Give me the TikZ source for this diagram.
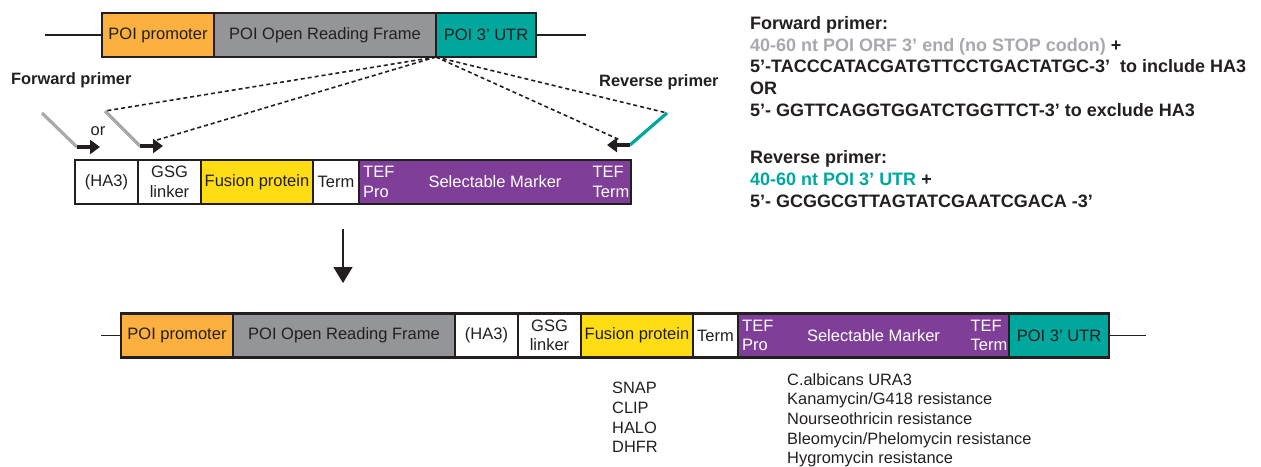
\documentclass[tikz,border=0pt]{standalone}
\usepackage{fontspec}
\setmainfont{Liberation Sans}
\usetikzlibrary{positioning,arrows.meta}

\definecolor{outline}{HTML}{231F20}
\definecolor{promoter}{HTML}{FBB040}
\definecolor{orf}{HTML}{939598}
\definecolor{utr}{HTML}{00A79D}
\definecolor{fusion}{HTML}{FFDD15}
\definecolor{marker}{HTML}{7F3F98}
\definecolor{primergray}{HTML}{A7A9AC}

\newcommand{\segfont}{\fontsize{16.5}{19.5}\selectfont}
\newcommand{\listfont}{\fontsize{16.4}{19.7}\selectfont}
\newcommand{\infofont}{\fontsize{18}{21.8}\selectfont}

\begin{document}
\begin{tikzpicture}[x=1pt, y=-1pt,
    seg/.style={rectangle, draw=outline, line width=2.2pt, inner sep=0pt, outer sep=0pt,
                minimum height=44pt, text=outline, font=\segfont, align=center},
    tef/.style={font=\segfont, text=white, align=left, inner xsep=4pt, inner ysep=0pt},
    dna/.style={line width=1.6pt, draw=outline},
    primer/.style={line width=3.2pt, draw=primergray},
    tip/.style={line width=4pt, draw=outline, -{Triangle[length=10pt,width=14pt]}},
    guide/.style={line width=1.6pt, draw=outline, dash pattern=on 4pt off 3pt},
    primerlabel/.style={font=\fontsize{16.4}{19.5}\selectfont\bfseries, text=outline, inner sep=0pt},
    note/.style={font=\listfont, text=outline, align=left, inner sep=0pt},
    info/.style={font=\infofont\bfseries, text=outline, align=left, inner sep=0pt}
]
    \useasboundingbox (0,0) rectangle (1261,466);

    % Genomic locus
    \node[seg, fill=promoter, minimum width=112pt] (topprom) at (158,35) {POI promoter};
    \node[seg, fill=orf, minimum width=222pt, right=0pt of topprom] (toporf) {POI Open Reading Frame};
    \node[seg, fill=utr, minimum width=100pt, right=0pt of toporf] (toputr) {POI 3’ UTR};
    \coordinate (topleft) at (45,35);
    \coordinate (topright) at (586,35);
    \draw[dna] (topleft) -- (topprom.west);
    \draw[dna] (toputr.east) -- (topright);

    % Tagging cassette
    \node[seg, fill=white, minimum width=63pt] (ha3) at (106.5,182) {(HA3)};
    \node[seg, fill=white, minimum width=63pt, right=0pt of ha3] (gsg) {GSG\\linker};
    \node[seg, fill=fusion, minimum width=112pt, right=0pt of gsg] (fusion) {Fusion protein};
    \node[seg, fill=white, minimum width=46pt, right=0pt of fusion] (term) {Term};
    \node[seg, fill=marker, text=white, minimum width=272pt, right=0pt of term] (marker) {Selectable Marker};
    \node[tef, anchor=west] (markerpro) at (marker.west) {TEF\\Pro};
    \node[tef, anchor=east, inner xsep=1.5pt] (markerterm) at (marker.east) {TEF\\Term};

    % Primers
    \node[primerlabel, anchor=base west] (fwdlabel) at (11,84) {Forward primer};
    \node[primerlabel, anchor=base west] (revlabel) at (599,86) {Reverse primer};
    \node[font=\segfont, text=outline] (ortext) at (98,131) {or};

    \coordinate (fwdatop) at (42,113);
    \coordinate (fwdabend) at (77,147);
    \coordinate (fwdatip) at (100,147);
    \coordinate (fwdbtop) at (105,111);
    \coordinate (fwdbbend) at (140,146);
    \coordinate (fwdbtip) at (163,146);
    \coordinate (fwdbguide) at (157,140);
    \coordinate (revtop) at (667,113);
    \coordinate (revbend) at (630,145);
    \coordinate (revtip) at (607,145);
    \coordinate (revguide) at (620,140);

    \draw[primer] (fwdatop) -- (fwdabend);
    \draw[tip] (fwdabend) -- (fwdatip);
    \draw[primer] (fwdbtop) -- (fwdbbend);
    \draw[tip] (fwdbbend) -- (fwdbtip);
    \draw[primer, draw=utr] (revtop) -- (revbend);
    \draw[tip] (revbend) -- (revtip);

    \draw[guide] (toporf.south east) -- (fwdbtop);
    \draw[guide] (toporf.south east) -- (fwdbguide);
    \draw[guide] (toporf.south east) -- (revguide);
    \draw[guide] (toporf.south east) -- (revtop);

    % Integration
    \coordinate (integfrom) at (343,229);
    \coordinate (integto) at (343,283);
    \draw[line width=1.6pt, draw=outline, -{Triangle[length=16pt,width=19pt]}] (integfrom) -- (integto);

    % Tagged locus
    \node[seg, fill=promoter, minimum width=112pt] (botprom) at (177,335.5) {POI promoter};
    \node[seg, fill=orf, minimum width=222pt, right=0pt of botprom] (botorf) {POI Open Reading Frame};
    \node[seg, fill=white, minimum width=63pt, right=0pt of botorf] (botha3) {(HA3)};
    \node[seg, fill=white, minimum width=63pt, right=0pt of botha3] (botgsg) {GSG\\linker};
    \node[seg, fill=fusion, minimum width=112pt, right=0pt of botgsg] (botfusion) {Fusion protein};
    \node[seg, fill=white, minimum width=45pt, right=0pt of botfusion] (botterm) {Term};
    \node[seg, fill=marker, text=white, minimum width=271pt, right=0pt of botterm] (botmarker) {Selectable Marker};
    \node[seg, fill=utr, minimum width=100pt, right=0pt of botmarker] (botutr) {POI 3’ UTR};
    \node[tef, anchor=west] (botmarkerpro) at (botmarker.west) {TEF\\Pro};
    \node[tef, anchor=east, inner xsep=1.5pt] (botmarkerterm) at (botmarker.east) {TEF\\Term};
    \coordinate (botleft) at (101,335.5);
    \coordinate (botright) at (1146,335.5);
    \draw[dna] (botleft) -- (botprom.west);
    \draw[dna] (botutr.east) -- (botright);

    % Options
    \node[note, anchor=north west] (tags) at (612,382) {SNAP\\CLIP\\HALO\\DHFR};
    \node[note, anchor=north west] (markers) at (787,373)
        {C.albicans URA3\\Kanamycin/G418 resistance\\Nourseothricin resistance\\
         Bleomycin/Phelomycin resistance\\Hygromycin resistance};

    % Primer sequences
    \node[info, anchor=north west] (fwdinfo) at (750,16)
        {Forward primer:\\
         \textcolor{primergray}{40-60 nt POI ORF 3’ end (no STOP codon)} +\\
         5’-TACCCATACGATGTTCCTGACTATGC-3’~ to include HA3\\
         OR\\
         5’- GGTTCAGGTGGATCTGGTTCT-3’ to exclude HA3};
    \node[info, anchor=north west] (revinfo) at (750,150.5)
        {Reverse primer:\\
         \textcolor{utr}{40-60 nt POI 3’ UTR} +\\
         5’- GCGGCGTTAGTATCGAATCGACA -3’};
\end{tikzpicture}
\end{document}
